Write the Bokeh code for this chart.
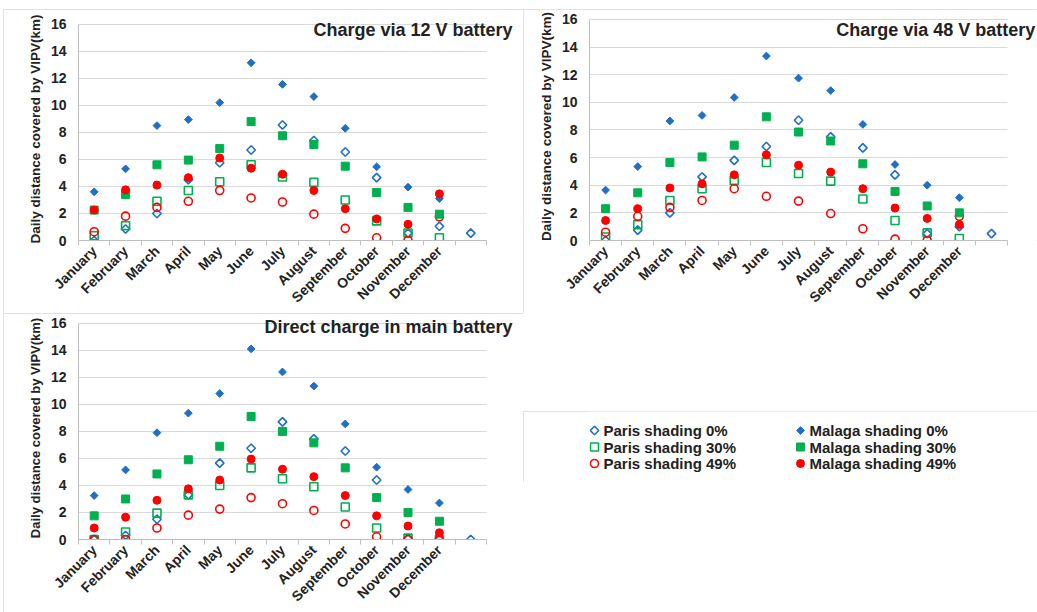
import numpy as np
from math import pi
from bokeh.plotting import figure
from bokeh.models import FixedTicker, Label, Spacer, ColumnDataSource
from bokeh.layouts import row, column
from bokeh.core.properties import value
from bokeh.embed import file_html
from bokeh.resources import INLINE

months = ["January", "February", "March", "April", "May", "June", "July",
          "August", "September", "October", "November", "December"]
series_names = ["Paris shading 0%", "Paris shading 30%", "Paris shading 49%",
                "Malaga shading 0%", "Malaga shading 30%", "Malaga shading 49%"]
titles = ["Charge via 12 V battery", "Charge via 48 V battery", "Direct charge in main battery"]
y_ticks = [0, 2, 4, 6, 8, 10, 12, 14, 16]

# ---- Charge via 12 V battery (Paris 0% has a 13th, unlabeled point)
v12_paris0 = [0.0, 0.85, 2.0, 4.5, 5.75, 6.7, 8.55, 7.4, 6.55, 4.65, 0.55, 1.05, 0.55]
v12_paris30 = [0.35, 1.1, 2.9, 3.7, 4.35, 5.6, 4.7, 4.3, 3.0, 1.45, 0.55, 0.2]
v12_paris49 = [0.65, 1.8, 2.45, 2.9, 3.7, 3.15, 2.85, 1.95, 0.9, 0.2, 0.0, 1.75]
v12_malaga0 = [3.6, 5.3, 8.5, 8.95, 10.2, 13.15, 11.55, 10.65, 8.3, 5.45, 3.95, 3.1]
v12_malaga30 = [2.25, 3.4, 5.6, 5.95, 6.8, 8.8, 7.75, 7.1, 5.5, 3.55, 2.45, 1.95]
v12_malaga49 = [2.25, 3.75, 4.1, 4.65, 6.1, 5.35, 4.9, 3.7, 2.35, 1.6, 1.2, 3.45]

# ---- Charge via 48 V battery
v48_paris0 = [0.0, 0.75, 2.0, 4.6, 5.8, 6.8, 8.7, 7.5, 6.7, 4.75, 0.5, 1.0, 0.5]
v48_paris30 = [0.25, 1.15, 2.9, 3.75, 4.35, 5.65, 4.85, 4.3, 3.0, 1.45, 0.55, 0.15]
v48_paris49 = [0.6, 1.75, 2.4, 2.9, 3.75, 3.2, 2.85, 1.95, 0.85, 0.1, 0.0, 1.75]
v48_malaga0 = [3.65, 5.35, 8.65, 9.05, 10.35, 13.35, 11.75, 10.85, 8.4, 5.5, 4.0, 3.1]
v48_malaga30 = [2.3, 3.45, 5.65, 6.05, 6.9, 8.95, 7.85, 7.2, 5.55, 3.55, 2.5, 2.0]
v48_malaga49 = [1.45, 2.3, 3.8, 4.1, 4.75, 6.2, 5.45, 4.95, 3.75, 2.35, 1.6, 1.15]

# ---- Direct charge in main battery
vd_paris0 = [0.0, 0.3, 1.5, 3.3, 5.65, 6.75, 8.7, 7.45, 6.55, 4.4, 0.05, 0.0, 0.0]
vd_paris30 = [0.0, 0.55, 1.95, 3.3, 4.0, 5.3, 4.5, 3.9, 2.4, 0.85, 0.1, 0.0]
vd_paris49 = [0.0, 0.0, 0.85, 1.8, 2.25, 3.1, 2.65, 2.15, 1.15, 0.2, 0.0, 0.0]
vd_malaga0 = [3.25, 5.15, 7.9, 9.35, 10.8, 14.1, 12.4, 11.35, 8.55, 5.35, 3.7, 2.7]
vd_malaga30 = [1.75, 3.0, 4.85, 5.9, 6.9, 9.1, 8.0, 7.15, 5.3, 3.1, 2.0, 1.35]
vd_malaga49 = [0.85, 1.65, 2.9, 3.75, 4.4, 5.95, 5.2, 4.65, 3.25, 1.75, 1.0, 0.5]

BLUE = "#1f6fc5"
GREEN = "#00b050"
RED = "#ff0000"
FONT = "Liberation Sans"
GRID = "#d9d9d9"
AXIS = "#bfbfbf"
TEXT = "#222222"

# marker style per series: (marker, angle, size, filled, color)
styles = [
    ("square", pi / 4, 6.0, False, BLUE),
    ("square", 0, 8, False, GREEN),
    ("circle", 0, 8, False, RED),
    ("square", pi / 4, 5.5, True, BLUE),
    ("square", 0, 8, True, GREEN),
    ("circle", 0, 8, True, RED),
]

FRAME_CSS = {"outline": "1px solid #d9d9d9", "outline-offset": "-1px"}
N_SLOTS = len(months) + 1


def marker_kw(style):
    mk, ang, sz, filled, col = style
    return dict(marker=mk, angle=ang, size=sz, line_color=col,
                fill_color=col if filled else "white",
                fill_alpha=1.0 if filled else 0.0,
                line_width=1.0 if filled else 1.6)


def make_panel(series, title, width, height, borders, x_end, title_xy,
               y_top=16.5, ylabel_size="13.5px"):
    left, right, top, bottom = borders
    p = figure(width=width, height=height, output_backend="svg", toolbar_location=None,
               x_range=(0.5, x_end), y_range=(y_ticks[0], y_top),
               min_border_left=left, min_border_right=right,
               min_border_top=top, min_border_bottom=bottom,
               background_fill_color="white", border_fill_color="white",
               outline_line_color=None, styles=FRAME_CSS)
    for vals, st in zip(series, styles):
        src = ColumnDataSource(dict(x=np.arange(1, len(vals) + 1), y=vals))
        p.scatter("x", "y", source=src, **marker_kw(st))
    # x axis
    xa = p.xaxis[0]
    xa.ticker = FixedTicker(ticks=list(range(1, len(months) + 1)),
                            minor_ticks=list(np.arange(0.5, N_SLOTS + 1, 1.0)))
    xa.bounds = (0.5, N_SLOTS + 0.5)
    xa.major_label_overrides = {i + 1: m for i, m in enumerate(months)}
    xa.major_label_orientation = pi / 4
    xa.major_tick_line_color = None
    xa.major_tick_out = 0
    xa.major_tick_in = 0
    xa.minor_tick_out = 5
    xa.minor_tick_in = 0
    xa.minor_tick_line_color = AXIS
    xa.axis_line_color = AXIS
    xa.major_label_text_font = FONT
    xa.major_label_text_font_style = "bold"
    xa.major_label_text_font_size = "14px"
    xa.major_label_text_color = TEXT
    xa.major_label_standoff = 3
    # y axis
    ya = p.yaxis[0]
    ya.ticker = FixedTicker(ticks=y_ticks)
    ya.bounds = (y_ticks[0], y_ticks[-1])
    ya.major_tick_line_color = None
    ya.major_tick_out = 0
    ya.major_tick_in = 0
    ya.minor_tick_line_color = None
    ya.axis_line_color = AXIS
    ya.major_label_text_font = FONT
    ya.major_label_text_font_style = "bold"
    ya.major_label_text_font_size = "14px"
    ya.major_label_text_color = TEXT
    ya.major_label_standoff = 12
    ya.axis_label = "Daily distance covered by VIPV(km)"
    ya.axis_label_text_font = FONT
    ya.axis_label_text_font_style = "bold"
    ya.axis_label_text_font_size = ylabel_size
    ya.axis_label_text_color = TEXT
    ya.axis_label_standoff = 5
    p.xgrid.grid_line_color = None
    p.ygrid.grid_line_color = GRID
    p.ygrid.grid_line_width = 1
    p.ygrid.cross_bounds = (0.5, N_SLOTS + 0.5)
    tx, ty = title_xy
    p.add_layout(Label(x=tx, y=ty, text=title, text_align="right", text_baseline="middle",
                       text_font=FONT, text_font_style="bold", text_font_size="18px",
                       text_color=TEXT))
    return p


p1 = make_panel([v12_paris0, v12_paris30, v12_paris49, v12_malaga0, v12_malaga30, v12_malaga49],
                titles[0], 520, 304, (75, 0, 8, 71), 14.68, (14.33, 15.58))
p2 = make_panel([v48_paris0, v48_paris30, v48_paris49, v48_malaga0, v48_malaga30, v48_malaga49],
                titles[1], 514, 304, (66, 0, 3, 73), 14.43, (14.36, 15.2))
p3 = make_panel([vd_paris0, vd_paris30, vd_paris49, vd_malaga0, vd_malaga30, vd_malaga49],
                titles[2], 520, 299, (75, 0, 3, 70), 14.68, (14.33, 15.73),
                ylabel_size="13px")

# legend panel (x/y in panel pixels)
LEG_W, LEG_H, LEG_LEFT = 514, 71, 66
pl = figure(width=LEG_W, height=LEG_H, output_backend="svg", toolbar_location=None,
            min_border_left=LEG_LEFT, min_border_right=0, min_border_top=0, min_border_bottom=0,
            outline_line_color=None, styles=FRAME_CSS,
            x_axis_type=None, y_axis_type=None,
            x_range=(LEG_LEFT, LEG_W), y_range=(LEG_H, 0))
pl.grid.visible = False
col_marker_x = [71, 277]
col_text_x = [80, 286]
row_y = [19, 35.5, 52]
for i, (name, st) in enumerate(zip(series_names, styles)):
    c, r = divmod(i, 3)
    pl.scatter(x=[col_marker_x[c]], y=[row_y[r]], **marker_kw(st))
    pl.text(x=[col_text_x[c]], y=[row_y[r]], text=[name], text_align="left",
            text_baseline="middle", text_font=value(FONT), text_font_style="bold",
            text_font_size="15px", text_color=TEXT)

left_col = column(Spacer(width=520, height=9), p1, p3)
right_col = column(Spacer(width=LEG_W, height=9), p2, Spacer(width=LEG_W, height=98), pl)
layout = row(Spacer(width=3, height=612), left_col, right_col)

open("out.html", "w").write(file_html(layout, INLINE))
